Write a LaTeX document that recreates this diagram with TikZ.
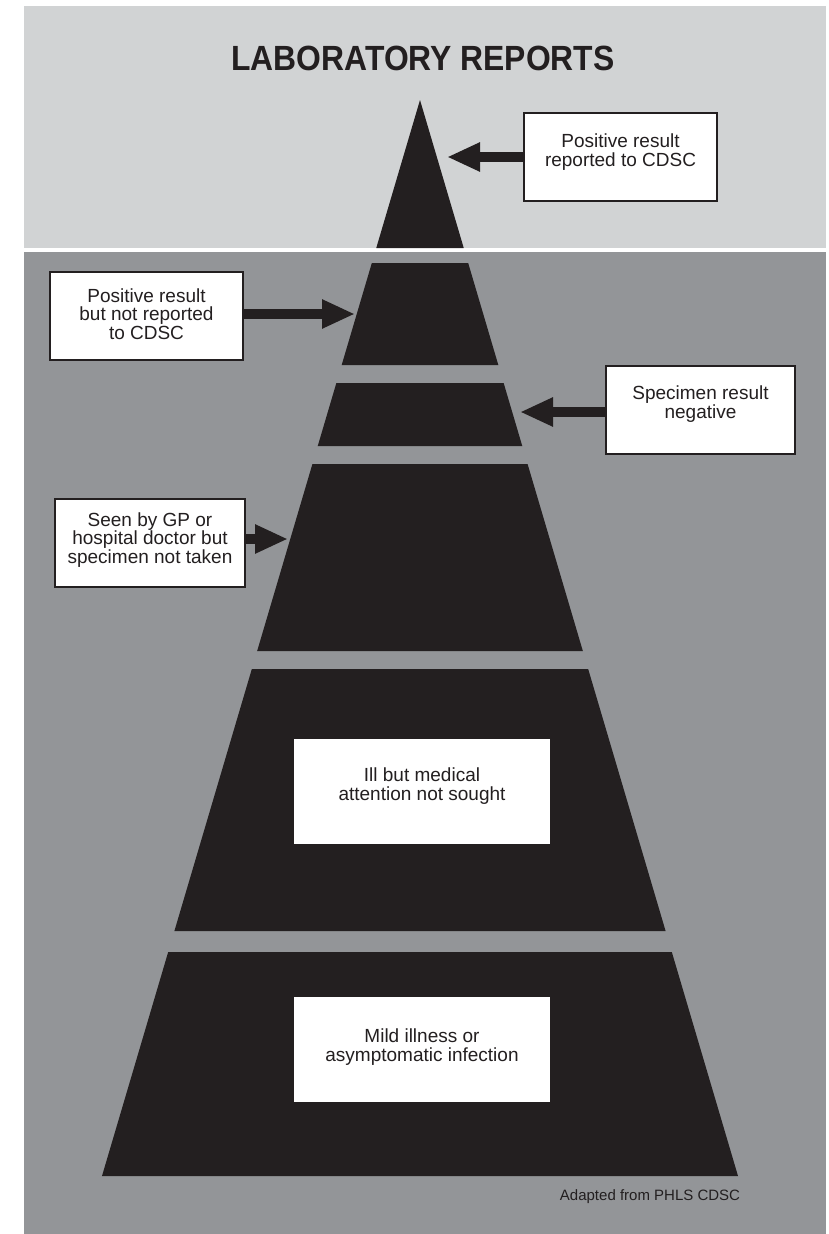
\documentclass[tikz,border=0pt]{standalone}
\usepackage{fontspec}
\setmainfont{Liberation Sans}
\newfontfamily\titlefont[FakeStretch=0.91]{Liberation Sans}
\usetikzlibrary{arrows.meta}
\definecolor{lightbg}{HTML}{D1D3D4}
\definecolor{darkbg}{HTML}{939598}
\definecolor{ink}{HTML}{231F20}
\newcommand\pyrband[2]{%
  \fill[ink] ({420-(#1-100)*0.29554},#1) -- ({420+(#1-100)*0.29554},#1)
   -- ({420+(#2-100)*0.29554},#2) -- ({420-(#2-100)*0.29554},#2) -- cycle;}
\begin{document}
\begin{tikzpicture}[x=1pt,y=-1pt,
  box/.style={draw=ink, line width=1.5pt, fill=white, inner sep=0pt,
    minimum height=88pt},
  inbox/.style={fill=white, inner sep=0pt,
    minimum width=256pt, minimum height=105pt},
  lbl/.style={text=ink, align=center, inner sep=0pt,
    font=\fontsize{19}{18.5}\selectfont},
  arr/.style={draw=ink, line width=10pt, -{Triangle[length=33pt,width=27pt]}}]
\useasboundingbox (0,0) rectangle (828,1234);
\fill[white] (0,0) rectangle (828,1234);
\fill[lightbg] (24,6) rectangle (826,248);
\fill[white] (24,248) rectangle (826,252);
\fill[darkbg] (24,252) rectangle (826,1234);

% title
\node[text=ink, font=\titlefont\bfseries\fontsize{35}{40}\selectfont] (title) at (423,58) {LABORATORY REPORTS};

% pyramid
\fill[ink] (420,100) -- ({420+148*0.29554},248) -- ({420-148*0.29554},248) -- cycle;
\pyrband{263}{365}
\pyrband{383}{446}
\pyrband{464}{651}
\pyrband{669}{931}
\pyrband{952}{1176}

% arrow tips
\coordinate (tA) at (447,157);
\coordinate (tB) at (355,314);
\coordinate (tC) at (520,412);
\coordinate (tD) at (288,539);

% boxes
\node[box, minimum width=193pt] (A) at (620.5,157) {};
\node[box, minimum width=193pt] (B) at (146.5,316) {};
\node[box, minimum width=189pt] (C) at (700.5,410) {};
\node[box, minimum width=190pt] (D) at (150,543) {};
\node[inbox] (E) at (422,791) {};
\node[inbox] (F) at (422,1049.5) {};

% labels
\node[lbl] (Atext) at ([yshift=5pt]A.center) {Positive result\\reported to CDSC};
\node[lbl] (Btext) at ([yshift=2pt]B.center) {Positive result\\but not reported\\to CDSC};
\node[lbl] (Ctext) at ([yshift=6pt]C.center) {Specimen result\\negative};
\node[lbl] (Dtext) at ([yshift=3pt]D.center) {Seen by GP or\\hospital doctor but\\specimen not taken};
\node[lbl] (Etext) at ([yshift=5pt]E.center) {Ill but medical\\attention not sought};
\node[lbl] (Ftext) at ([yshift=2.5pt]F.center) {Mild illness or\\asymptomatic infection};

% arrows
\draw[arr] (A.west |- tA) -- (tA);
\draw[arr] (B.east |- tB) -- (tB);
\draw[arr] (C.west |- tC) -- (tC);
\draw[arr] (D.east |- tD) -- (tD);

% footer
\node[text=ink, anchor=base, inner sep=0pt, font=\fontsize{15}{18}\selectfont] (foot) at (650,1200) {Adapted from PHLS CDSC};
\end{tikzpicture}
\end{document}
